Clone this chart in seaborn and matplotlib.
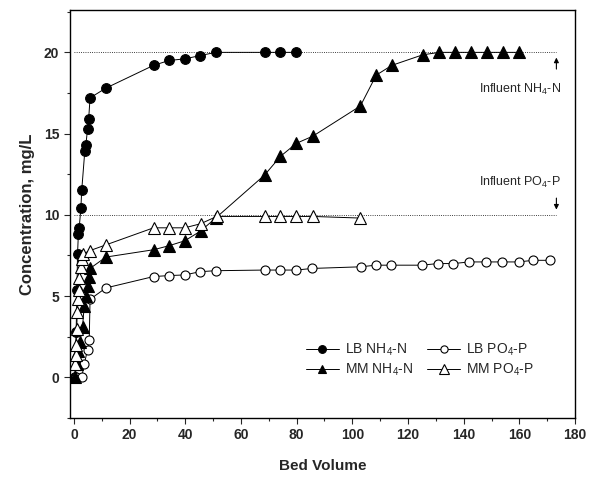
import seaborn as sns
import matplotlib.pyplot as plt
from matplotlib.ticker import MultipleLocator

# bed volume / concentration readings (mg/L)
lb_nh4_x = [0.3, 0.8, 1.1, 1.3, 1.6, 1.9, 2.5, 2.8, 3.9, 4.3, 4.9, 5.3, 5.8, 11.5,
            28.6, 34.2, 39.8, 45.3, 50.9, 68.5, 74.2, 79.9]
lb_nh4_y = [0.0, 2.8, 5.4, 7.6, 8.8, 9.2, 10.4, 11.5, 13.9, 14.3, 15.3, 15.9, 17.2, 17.8,
            19.2, 19.5, 19.6, 19.8, 20.0, 20.0, 20.0, 20.0]

lb_po4_x = [0.7, 2.8, 3.7, 4.9, 5.5, 5.8, 11.5, 28.6, 34.2, 39.8, 45.3, 50.9, 68.5, 74.2,
            79.9, 85.6, 103.0, 108.4, 114.0, 125.0, 130.7, 136.3, 142.0, 148.0, 153.8,
            159.7, 165.0, 171.0]
lb_po4_y = [0.0, 0.0, 0.8, 1.7, 2.3, 4.8, 5.5, 6.2, 6.26, 6.3, 6.5, 6.56, 6.6, 6.6,
            6.6, 6.7, 6.8, 6.9, 6.9, 6.9, 7.0, 7.0, 7.1, 7.1, 7.1, 7.1, 7.2, 7.2]

mm_nh4_x = [0.4, 1.0, 1.6, 2.2, 3.1, 3.7, 4.4, 5.1, 5.5, 5.8, 11.5, 28.6, 34.2, 39.8,
            45.5, 50.9, 68.5, 74.2, 79.9, 85.9, 102.9, 108.6, 114.2, 125.3, 131.3,
            136.9, 142.7, 148.3, 154.0, 159.7]
mm_nh4_y = [0.0, 0.8, 1.6, 2.2, 3.1, 4.4, 5.0, 5.6, 6.2, 6.7, 7.4, 7.85, 8.1, 8.4,
            9.0, 9.8, 12.45, 13.6, 14.4, 14.85, 16.7, 18.6, 19.2, 19.85, 20.0,
            20.0, 20.0, 20.0, 20.0, 20.0]

mm_po4_x = [0.4, 0.6, 0.8, 1.0, 1.2, 1.5, 1.8, 2.0, 2.4, 2.8, 3.4, 5.8, 11.5, 28.6,
            34.2, 39.8, 45.5, 51.3, 68.5, 74.2, 79.9, 85.9, 102.9]
mm_po4_y = [0.8, 1.4, 2.0, 3.0, 4.0, 4.8, 5.4, 6.1, 6.8, 7.3, 7.6, 7.8, 8.15, 9.2,
            9.2, 9.2, 9.45, 9.9, 9.9, 9.9, 9.9, 9.9, 9.8]

influent_nh4 = 20
influent_po4 = 10


def main():
    sns.set_theme(style="ticks")
    plt.rcParams["font.family"] = ["Liberation Sans", "DejaVu Sans"]
    plt.rcParams["mathtext.default"] = "regular"

    fig, ax = plt.subplots(figsize=(5.91, 4.82), dpi=100)
    fig.subplots_adjust(left=0.118, right=0.973, bottom=0.133, top=0.979)

    common = dict(ax=ax, color="black", linewidth=0.7, estimator=None, sort=False,
                  markeredgecolor="black", markeredgewidth=0.8)
    sns.lineplot(x=lb_nh4_x, y=lb_nh4_y, marker="o", markersize=7,
                 markerfacecolor="black", label="LB NH$_4$-N", **common)
    sns.lineplot(x=lb_po4_x, y=lb_po4_y, marker="o", markersize=6.5,
                 markerfacecolor="white", label="LB PO$_4$-P", **common)
    sns.lineplot(x=mm_nh4_x, y=mm_nh4_y, marker="^", markersize=8,
                 markerfacecolor="black", label="MM NH$_4$-N", **common)
    sns.lineplot(x=mm_po4_x, y=mm_po4_y, marker="^", markersize=8.5,
                 markerfacecolor="white", label="MM PO$_4$-P", **common)

    # influent reference lines
    for lvl in (influent_nh4, influent_po4):
        ax.plot([0, 173], [lvl, lvl], color="black", linestyle=":", linewidth=0.6, zorder=0)
    ax.annotate("", xy=(173.3, 19.85), xytext=(173.3, 18.8),
                arrowprops=dict(arrowstyle="-|>", color="black", lw=0.8, mutation_scale=7))
    ax.annotate("", xy=(173.3, 10.15), xytext=(173.3, 11.2),
                arrowprops=dict(arrowstyle="-|>", color="black", lw=0.8, mutation_scale=7))
    ax.text(175, 17.7, "Influent NH$_4$-N", ha="right", va="center", fontsize=9)
    ax.text(175, 12.0, "Influent PO$_4$-P", ha="right", va="center", fontsize=9)

    ax.set_xlim(-1.5, 180)
    ax.set_ylim(-2.5, 22.6)
    ax.xaxis.set_major_locator(MultipleLocator(20))
    ax.xaxis.set_minor_locator(MultipleLocator(10))
    ax.yaxis.set_major_locator(MultipleLocator(5))
    ax.yaxis.set_minor_locator(MultipleLocator(2.5))
    ax.tick_params(which="major", length=4, width=0.8, labelsize=10)
    ax.tick_params(which="minor", length=2.5, width=0.8)
    for lab in ax.get_xticklabels() + ax.get_yticklabels():
        lab.set_fontweight("bold")
    for sp in ax.spines.values():
        sp.set_linewidth(1.0)
        sp.set_color("black")

    ax.set_xlabel("Bed Volume", fontsize=11, fontweight="bold", labelpad=12)
    ax.set_ylabel("Concentration, mg/L", fontsize=12, fontweight="bold", labelpad=6)

    handles, labels = ax.get_legend_handles_labels()
    order = [0, 2, 1, 3]
    ax.legend([handles[i] for i in order], [labels[i] for i in order], ncol=2,
              frameon=False, loc="center", bbox_to_anchor=(0.693, 0.142),
              fontsize=10, handlelength=2.4, handletextpad=0.4, columnspacing=1.0,
              labelspacing=0.3, markerscale=0.8)

    plt.savefig("out.png", dpi=100)


if __name__ == '__main__':
    main()
